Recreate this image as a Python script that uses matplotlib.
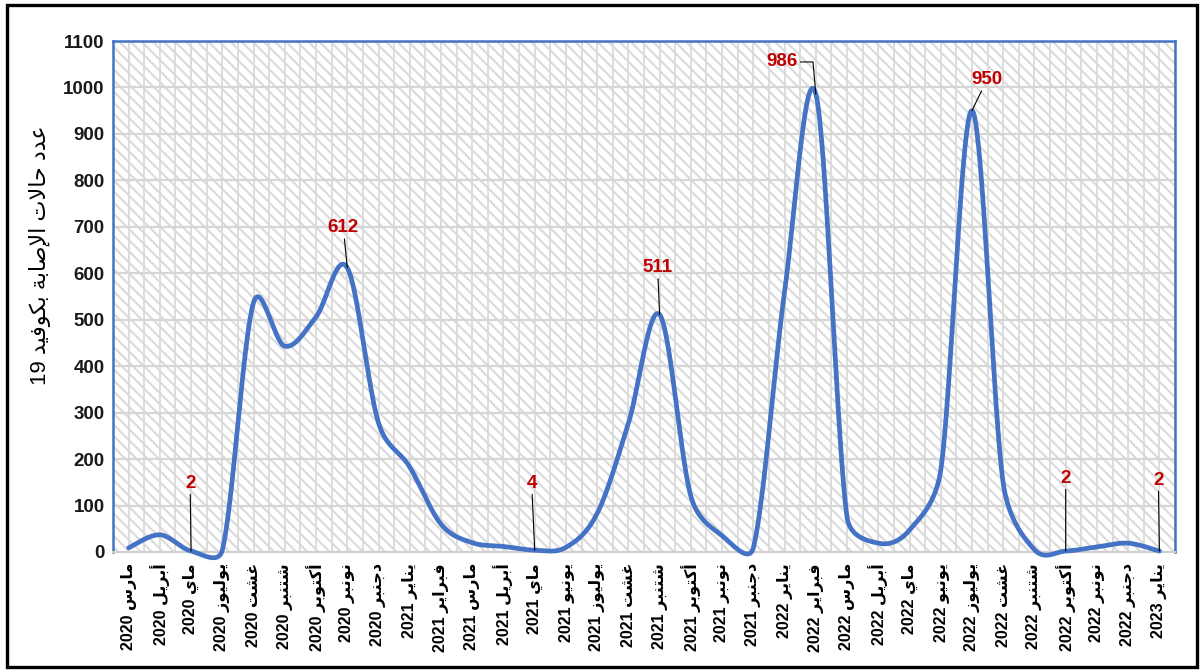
import numpy as np
import matplotlib
matplotlib.use('Agg')
import matplotlib.pyplot as plt
from matplotlib.patches import Rectangle

# ---------------- data ----------------
months = ['مارس', 'أبريل', 'ماي', 'يوليوز', 'غشت', 'شتنبر', 'أكتوبر', 'نونبر', 'دجنبر',
          'يناير', 'فبراير', 'مارس', 'أبريل', 'ماي', 'يونيو', 'يوليوز', 'غشت', 'شتنبر',
          'أكتوبر', 'نونبر', 'دجنبر',
          'يناير', 'فبراير', 'مارس', 'أبريل', 'ماي', 'يونيو', 'يوليوز', 'غشت', 'شتنبر',
          'أكتوبر', 'نونبر', 'دجنبر',
          'يناير']
years = [2020] * 9 + [2021] * 12 + [2022] * 12 + [2023]
cases = [9, 37, 2, 4, 537, 443, 506, 612, 278, 183, 60, 20, 12, 4, 10, 83, 277, 511,
         120, 35, 9, 560, 986, 75, 19, 47, 176, 950, 148, 5, 2, 11, 19, 2]
labelled = [2, 7, 13, 17, 22, 27, 30, 33]
y_label = 'عدد حالات الإصابة بكوفيد'
y_label_num = '19'
y_ticks = list(range(0, 1101, 100))

# ---------------- minimal Arabic shaping ----------------
FORMS = {
    'ا': ('\uFE8D', '\uFE8E', None, None),
    'أ': ('\uFE83', '\uFE84', None, None),
    'إ': ('\uFE87', '\uFE88', None, None),
    'ب': ('\uFE8F', '\uFE90', '\uFE91', '\uFE92'),
    'ة': ('\uFE93', '\uFE94', None, None),
    'ت': ('\uFE95', '\uFE96', '\uFE97', '\uFE98'),
    'ج': ('\uFE9D', '\uFE9E', '\uFE9F', '\uFEA0'),
    'ح': ('\uFEA1', '\uFEA2', '\uFEA3', '\uFEA4'),
    'د': ('\uFEA9', '\uFEAA', None, None),
    'ر': ('\uFEAD', '\uFEAE', None, None),
    'ز': ('\uFEAF', '\uFEB0', None, None),
    'س': ('\uFEB1', '\uFEB2', '\uFEB3', '\uFEB4'),
    'ش': ('\uFEB5', '\uFEB6', '\uFEB7', '\uFEB8'),
    'ص': ('\uFEB9', '\uFEBA', '\uFEBB', '\uFEBC'),
    'ع': ('\uFEC9', '\uFECA', '\uFECB', '\uFECC'),
    'غ': ('\uFECD', '\uFECE', '\uFECF', '\uFED0'),
    'ف': ('\uFED1', '\uFED2', '\uFED3', '\uFED4'),
    'ك': ('\uFED9', '\uFEDA', '\uFEDB', '\uFEDC'),
    'ل': ('\uFEDD', '\uFEDE', '\uFEDF', '\uFEE0'),
    'م': ('\uFEE1', '\uFEE2', '\uFEE3', '\uFEE4'),
    'ن': ('\uFEE5', '\uFEE6', '\uFEE7', '\uFEE8'),
    'و': ('\uFEED', '\uFEEE', None, None),
    'ي': ('\uFEF1', '\uFEF2', '\uFEF3', '\uFEF4'),
    'LA': ('\uFEFB', '\uFEFC', None, None),
    'LAA': ('\uFEF7', '\uFEF8', None, None),
    'LAH': ('\uFEF9', '\uFEFA', None, None),
}


def shape(word):
    toks = []
    i = 0
    while i < len(word):
        c = word[i]
        if c == 'ل' and i + 1 < len(word) and word[i + 1] in 'اأإ':
            toks.append({'ا': 'LA', 'أ': 'LAA', 'إ': 'LAH'}[word[i + 1]])
            i += 2
        else:
            toks.append(c)
            i += 1
    out = []
    for k, t in enumerate(toks):
        if t not in FORMS:
            out.append(t)
            continue
        f = FORMS[t]
        prev = toks[k - 1] if k > 0 else None
        nxt = toks[k + 1] if k + 1 < len(toks) else None
        jp = prev in FORMS and FORMS[prev][2] is not None
        jn = f[2] is not None and nxt in FORMS
        if jp and jn:
            out.append(f[3])
        elif jp:
            out.append(f[1])
        elif jn:
            out.append(f[2])
        else:
            out.append(f[0])
    return ''.join(out)


def rtl(s):
    return shape(s)[::-1]


# ---------------- Excel-like smoothing (Bezier, control arms limited) ----------------
def excel_smooth(x, y, sx, sy, n=40):
    # sx, sy: pixel per data unit, so that the arm limiting happens in screen space
    P = np.column_stack([np.asarray(x, float) * sx, np.asarray(y, float) * sy])
    E = np.vstack([P[0], P, P[-1]])
    t = np.linspace(0, 1, n)[:, None]
    segs = []
    for i in range(len(P) - 1):
        p0, p1, p2, p3 = E[i], E[i + 1], E[i + 2], E[i + 3]
        d12 = np.hypot(*(p2 - p1))
        d02 = np.hypot(*(p2 - p0))
        d13 = np.hypot(*(p3 - p1))
        f1 = 1 / 6.0 if d02 == 0 else min(1 / 6.0, d12 / (2 * d02))
        f2 = 1 / 6.0 if d13 == 0 else min(1 / 6.0, d12 / (2 * d13))
        c1 = p1 + (p2 - p0) * f1
        c2 = p2 - (p3 - p1) * f2
        seg = (1 - t) ** 3 * p1 + 3 * (1 - t) ** 2 * t * c1 + 3 * (1 - t) * t ** 2 * c2 + t ** 3 * p2
        segs.append(seg if i == 0 else seg[1:])
    S = np.vstack(segs)
    return S[:, 0] / sx, S[:, 1] / sy


FAM = ['Liberation Sans', 'DejaVu Sans']
plt.rcParams['font.family'] = FAM
plt.rcParams['hatch.linewidth'] = 1.5

W, H = 1202, 671
L, R, T, B = 113, 1175, 41, 552
fig = plt.figure(figsize=(W / 100, H / 100), dpi=100)
ax = fig.add_axes([L / W, 1 - B / H, (R - L) / W, (B - T) / H])

xs = np.arange(len(cases))
ax.set_xlim(-0.5, len(cases) - 0.5)
ax.set_ylim(0, 1100)

# hatched background
bg = Rectangle((0, 0), 1, 1, transform=ax.transAxes, facecolor='white',
               edgecolor='#dadada', hatch='\\\\\\', linewidth=0, zorder=0)
ax.add_patch(bg)
ax.set_facecolor('white')

# grid
ax.set_yticks(y_ticks)
ax.set_xticks(xs)
ax.set_xticks(np.arange(-0.5, len(cases), 1.0), minor=True)
ax.grid(True, which='both', axis='x', color='#dadada', linewidth=1.3, zorder=1)
ax.grid(True, which='major', axis='y', color='#d6d6d6', linewidth=1.6, zorder=1)
ax.set_axisbelow(True)

# line
px_per_x = (R - L) / len(cases)
px_per_y = (B - T) / 1100.0
sxs, sys_ = excel_smooth(xs, cases, px_per_x, px_per_y)
ax.plot(sxs, sys_, color='#4472C4', linewidth=3.4, solid_capstyle='round', zorder=3, clip_on=False)

# data labels
offsets = {2: (-1, 68), 7: (-4, 40), 13: (-3, 67), 17: (-2, 47),
           22: (-34, 32), 27: (15, 31), 30: (0, 73), 33: (-1, 71)}
for i in labelled:
    dx, dy = offsets[i]
    conn = 'arc3'
    if i == 22:
        conn = 'angle,angleA=0,angleB=95,rad=0'
    ax.annotate(str(cases[i]), xy=(xs[i], cases[i]), xytext=(dx, dy),
                textcoords='offset pixels', ha='center', va='center',
                fontsize=13.5, fontweight='bold', color='#C00000', zorder=5,
                arrowprops=dict(arrowstyle='-', color='black', lw=0.8,
                                shrinkA=0, shrinkB=0, connectionstyle=conn))

# ticks
ax.set_yticklabels([str(v) for v in y_ticks], fontsize=13.5, fontweight='bold', color='#1a1a1a')
xlabels = [f'{y} ' + rtl(m) for m, y in zip(months, years)]
ax.set_xticklabels(xlabels, rotation=90, fontsize=11.5, fontweight='bold', color='black')
ax.tick_params(axis='both', which='both', length=0)
ax.tick_params(axis='y', pad=6)
ax.tick_params(axis='x', pad=8)

# spines
for s in ['left', 'top', 'right']:
    ax.spines[s].set_color('#4472C4')
    ax.spines[s].set_linewidth(1.8)
ax.spines['bottom'].set_color('#d0d0d0')
ax.spines['bottom'].set_linewidth(1.5)

# y label
fig.text(40 / W, 1 - 255 / H, y_label_num + ' ' + rtl(y_label), rotation=90,
         ha='center', va='center', fontsize=16, color='black')

# outer frame
fig.add_artist(Rectangle((7 / W, 1 - 667 / H), (1197 - 7) / W, (667 - 5) / H,
                         transform=fig.transFigure, fill=False, edgecolor='black', linewidth=2.4))

fig.savefig('out.png', dpi=100)
